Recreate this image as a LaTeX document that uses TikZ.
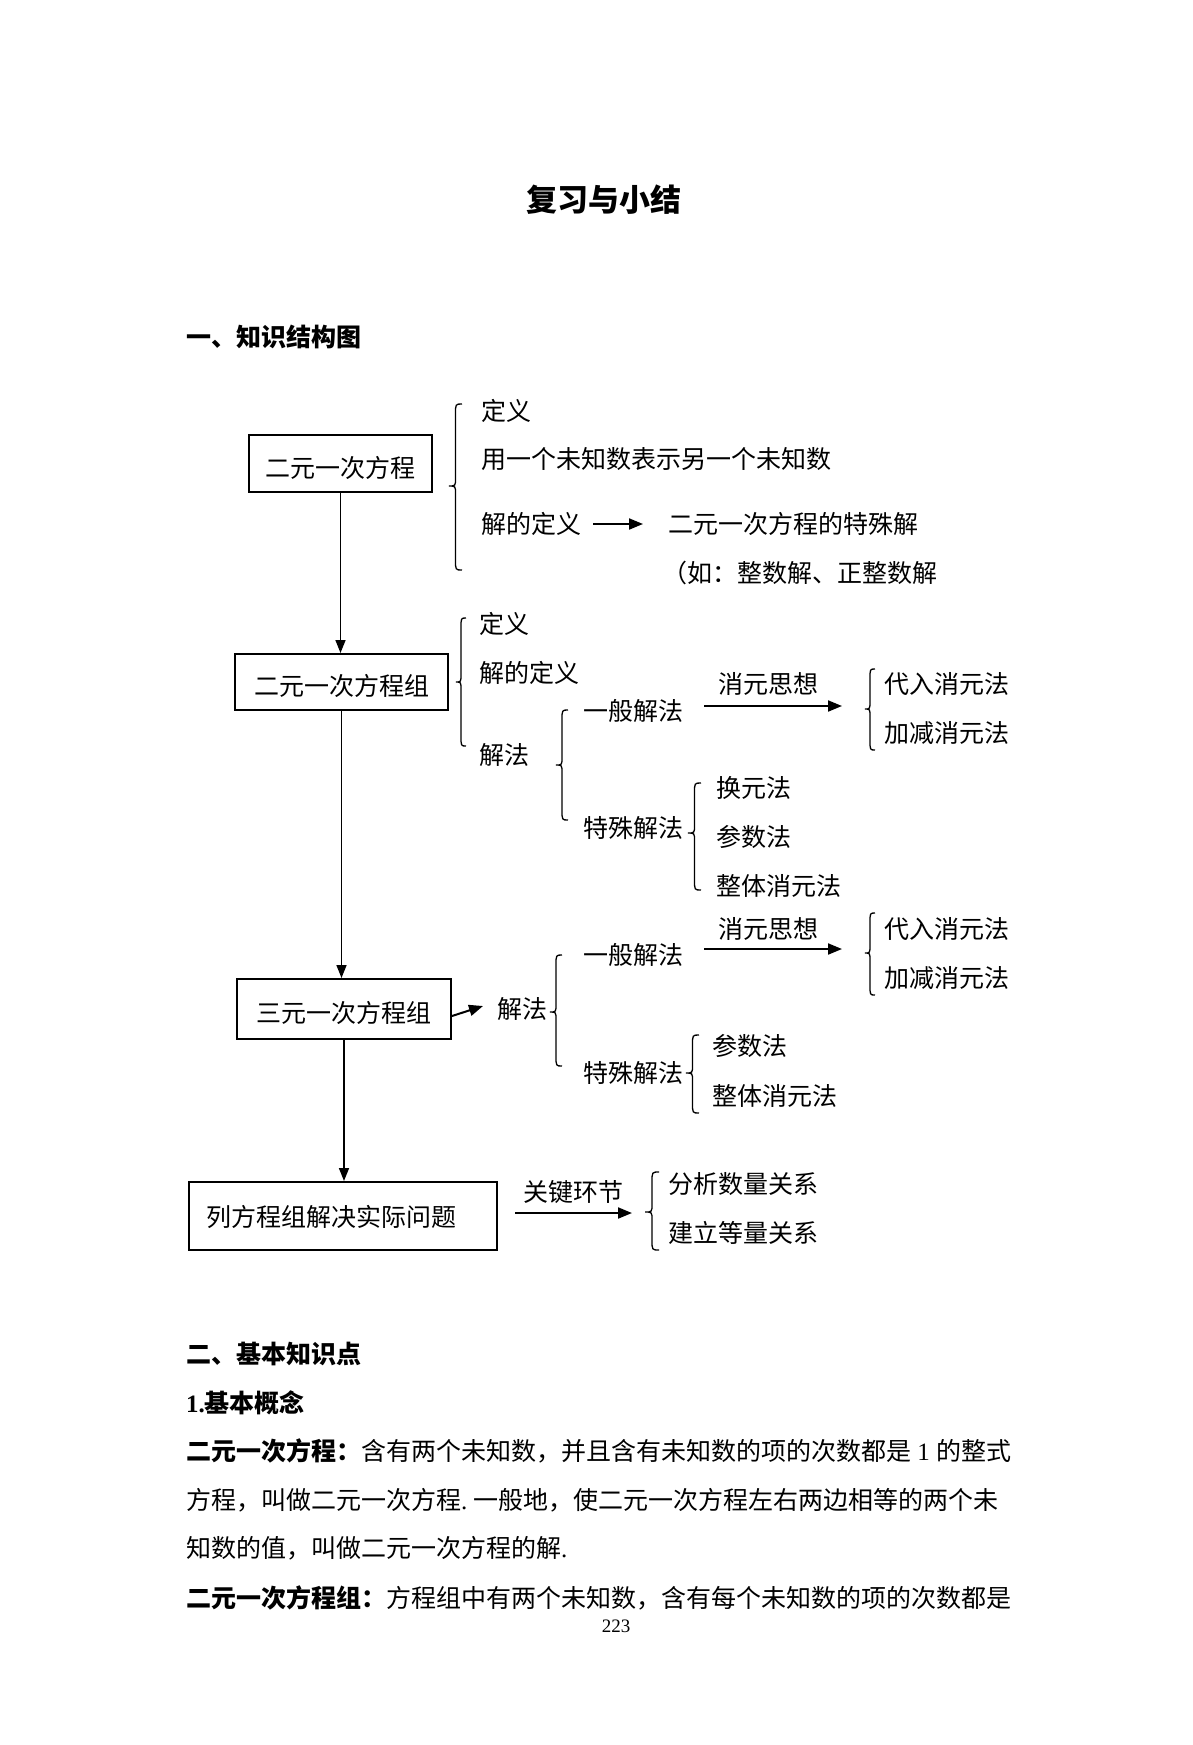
\documentclass[tikz,border=0pt]{standalone}
\usepackage{fontspec}
\setmainfont{Liberation Serif}
\newfontfamily\cjk{Noto Sans CJK SC}
\usetikzlibrary{arrows.meta}
\newcommand\mybrace[5]{%
  \draw[brc] (#1,#2) .. controls ({#1-0.5*#5},#2) .. ({#1-0.5*#5},{#2+10})
    -- ({#1-0.5*#5},{#3-8}) .. controls ({#1-0.5*#5},#3) .. ({#1-#5},#3)
    .. controls ({#1-0.5*#5},#3) .. ({#1-0.5*#5},{#3+8})
    -- ({#1-0.5*#5},{#4-10}) .. controls ({#1-0.5*#5},#4) .. (#1,#4);}
\begin{document}
\begin{tikzpicture}[x=1pt,y=-1pt,
  txt/.style={inner sep=0pt, anchor=west, font=\cjk\fontsize{25}{28}\selectfont},
  boxnode/.style={draw, line width=2pt, inner sep=0pt, text height=30pt, text depth=3pt, font=\cjk\fontsize{25}{28}\selectfont},
  conn/.style={line width=1.5pt, -{Triangle[length=13pt,width=10pt]}},
  hconn/.style={line width=2pt, -{Triangle[length=14pt,width=11pt]}},
  brc/.style={line width=1.3pt},
  hd/.style={txt, font=\cjk\bfseries\fontsize{25}{28}\selectfont},
]
\useasboundingbox[fill=white] (0,0) rectangle (1193,1745);

% title and heading
\node[font=\cjk\bfseries\fontsize{31}{36}\selectfont] (title) at (604,200) {复习与小结};
\node[hd] (h1) at (186,337) {一、知识结构图};

% boxes
\node[boxnode, minimum width=183pt, minimum height=57pt] (b1) at (340.5,463.5) {二元一次方程};
\node[boxnode, minimum width=213pt, minimum height=56pt] (b2) at (341.5,682) {二元一次方程组};
\node[boxnode, minimum width=214pt, minimum height=60pt] (b3) at (344,1009) {三元一次方程组};
\node[boxnode, text height=23pt, text depth=3pt, text width=274pt, align=left, inner xsep=17pt, minimum height=68pt] (b4) at (343,1216) {列方程组解决实际问题};

\draw[conn] (b1.south) -- (b1.south |- b2.north);
\draw[conn] (b2.south) -- (b2.south |- b3.north);
\draw[conn] (b3.south) -- (b3.south |- b4.north);

% group 1
\mybrace{462}{404}{486}{570}{13}
\node[txt] (d1) at (481,411) {定义};
\node[txt] (y1) at (481,459) {用一个未知数表示另一个未知数};
\node[txt] (jd1) at (481,524) {解的定义};
\node[txt] (ts) at (668,524) {二元一次方程的特殊解};
\node[txt] (ru) at (662,573) {（如：整数解、正整数解};
\draw[hconn] ([xshift=12pt]jd1.east) -- ([xshift=-25pt]ts.west);

% group 2
\mybrace{466}{618}{682}{746}{10}
\node[txt] (d2) at (479,624) {定义};
\node[txt] (jd2) at (479,673) {解的定义};
\node[txt] (jf2) at (479,755) {解法};
\mybrace{568}{710}{765}{820}{12}
\node[txt] (yba) at (583,711) {一般解法};
\node[txt] (xya) at (718,684) {消元思想};
\coordinate (xa0) at (704,706);
\coordinate (xa1) at (842,706);
\draw[hconn] (xa0) -- (xa1);
\mybrace{875}{669}{709}{750}{10}
\node[txt] (dra) at (884,684) {代入消元法};
\node[txt] (jja) at (884,733) {加减消元法};
\node[txt] (tsa) at (583,828) {特殊解法};
\mybrace{701}{783}{833}{890}{13}
\node[txt] (hy) at (716,788) {换元法};
\node[txt] (csa) at (716,837) {参数法};
\node[txt] (zta) at (716,886) {整体消元法};

% group 3
\node[txt] (jf3) at (497,1009) {解法};
\draw[hconn] ([yshift=-7pt]b3.east) -- ([xshift=-14pt,yshift=3pt]jf3.west);
\mybrace{562}{955}{1012}{1066}{12}
\node[txt] (ybb) at (583,955) {一般解法};
\node[txt] (xyb) at (718,929) {消元思想};
\coordinate (xb0) at (704,949);
\coordinate (xb1) at (842,949);
\draw[hconn] (xb0) -- (xb1);
\mybrace{875}{913}{953}{995}{10}
\node[txt] (drb) at (884,929) {代入消元法};
\node[txt] (jjb) at (884,978) {加减消元法};
\node[txt] (tsb) at (583,1073) {特殊解法};
\mybrace{699}{1035}{1073}{1113}{13}
\node[txt] (csb) at (712,1046) {参数法};
\node[txt] (ztb) at (712,1096) {整体消元法};

% group 4
\node[txt] (gj) at (523,1192) {关键环节};
\coordinate (xc0) at (515,1213);
\coordinate (xc1) at (632,1213);
\draw[hconn] (xc0) -- (xc1);
\mybrace{659}{1172}{1212}{1250}{14}
\node[txt] (fx) at (668,1184) {分析数量关系};
\node[txt] (jl) at (668,1233) {建立等量关系};

% text section
\node[hd] (h2) at (186,1354) {二、基本知识点};
\node[hd] (h3) at (186,1403) {{\rmfamily\bfseries 1.}基本概念};
\node[txt] (p1) at (186,1451) {{\bfseries 二元一次方程：}含有两个未知数，并且含有未知数的项的次数都是{\rmfamily\ 1\ }的整式};
\node[txt] (p2) at (186,1500) {方程，叫做二元一次方程{\rmfamily.\ }一般地，使二元一次方程左右两边相等的两个未};
\node[txt] (p3) at (186,1548) {知数的值，叫做二元一次方程的解{\rmfamily.}};
\node[txt] (p4) at (186,1598) {{\bfseries 二元一次方程组：}方程组中有两个未知数，含有每个未知数的项的次数都是};
\node[font=\rmfamily\fontsize{19}{22}\selectfont] (pg) at (616,1626) {223};
\end{tikzpicture}
\end{document}
